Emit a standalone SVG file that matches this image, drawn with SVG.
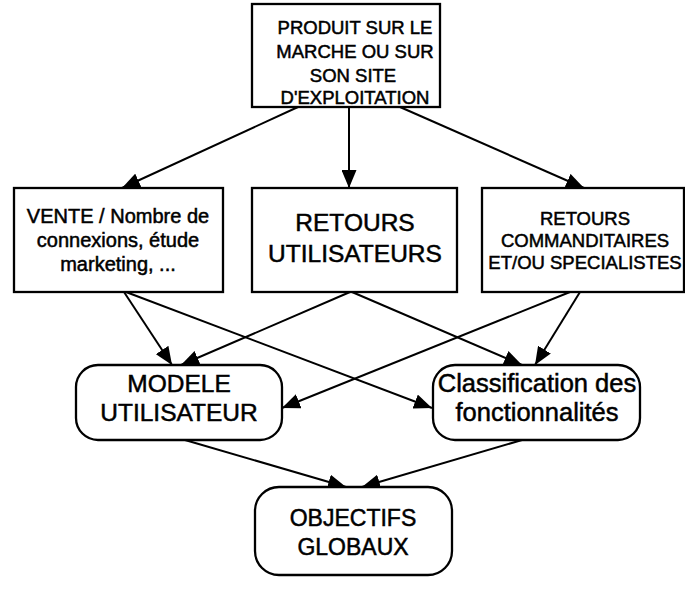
<svg xmlns="http://www.w3.org/2000/svg" width="685" height="602" viewBox="0 0 685 602">
  <style>
    .box { fill: #ffffff; stroke: #000000; stroke-width: 2.3; }
    .lbl { font-family: "Liberation Sans", Arial, sans-serif; fill: #000000; text-anchor: middle; stroke: #000000; stroke-width: 0.5; }
    .edge { fill: none; stroke: #000000; stroke-width: 2; marker-end: url(#arrow); }
  </style>
  <defs>
    <marker id="arrow" markerUnits="userSpaceOnUse" markerWidth="19" markerHeight="15" refX="18" refY="7.5" orient="auto">
      <path d="M0,0 L18,7.5 L0,15 Z" fill="#000000"/>
    </marker>
  </defs>
  <rect width="685" height="602" fill="#ffffff"/>

  <!-- connectors -->
  <g id="connectors">
    <line class="edge" x1="298" y1="107" x2="122" y2="188"/>
    <line class="edge" x1="349" y1="107" x2="349" y2="188"/>
    <line class="edge" x1="400" y1="107" x2="584" y2="188"/>
    <line class="edge" x1="124" y1="292" x2="172" y2="365"/>
    <line class="edge" x1="126" y1="292" x2="432" y2="408"/>
    <line class="edge" x1="350" y1="292" x2="181" y2="365"/>
    <line class="edge" x1="352" y1="292" x2="522" y2="365"/>
    <line class="edge" x1="570" y1="292" x2="282" y2="408"/>
    <line class="edge" x1="580" y1="292" x2="535" y2="365"/>
    <line class="edge" x1="185" y1="440" x2="346" y2="487"/>
    <line class="edge" x1="522" y1="440" x2="362" y2="487"/>
  </g>

  <g id="produit">
    <rect class="box" x="252" y="4" width="188" height="103"/>
    <text class="lbl" font-size="18.5" x="355" y="34">PRODUIT SUR LE</text>
    <text class="lbl" font-size="18.5" x="355" y="58">MARCHE OU SUR</text>
    <text class="lbl" font-size="18.5" x="353" y="82">SON SITE</text>
    <text class="lbl" font-size="18.5" x="355" y="104">D'EXPLOITATION</text>
  </g>

  <g id="vente">
    <rect class="box" x="14" y="188" width="209" height="104"/>
    <text class="lbl" font-size="20" x="118" y="223">VENTE / Nombre de</text>
    <text class="lbl" font-size="20" x="118" y="247">connexions, étude</text>
    <text class="lbl" font-size="20" x="118" y="271">marketing, ...</text>
  </g>

  <g id="retours-utilisateurs">
    <rect class="box" x="252" y="188" width="205" height="104"/>
    <text class="lbl" font-size="24.5" x="355" y="231">RETOURS</text>
    <text class="lbl" font-size="24.5" x="355" y="262">UTILISATEURS</text>
  </g>

  <g id="retours-commanditaires">
    <rect class="box" x="482" y="188" width="202" height="104"/>
    <text class="lbl" font-size="18.5" x="585" y="225">RETOURS</text>
    <text class="lbl" font-size="18.5" x="585" y="247">COMMANDITAIRES</text>
    <text class="lbl" font-size="18.5" x="585" y="269">ET/OU SPECIALISTES</text>
  </g>

  <g id="modele">
    <rect class="box" x="76" y="365" width="206" height="75" rx="22"/>
    <text class="lbl" font-size="24.5" x="179" y="392">MODELE</text>
    <text class="lbl" font-size="24.5" x="179" y="421">UTILISATEUR</text>
  </g>

  <g id="classification">
    <rect class="box" x="433" y="365" width="207" height="75" rx="22"/>
    <text class="lbl" font-size="25.5" x="537" y="392">Classification des</text>
    <text class="lbl" font-size="25.5" x="537" y="421">fonctionnalités</text>
  </g>

  <g id="objectifs">
    <rect class="box" x="255" y="487" width="197" height="88" rx="24"/>
    <text class="lbl" font-size="23" x="353" y="526">OBJECTIFS</text>
    <text class="lbl" font-size="23" x="353" y="555">GLOBAUX</text>
  </g>
</svg>
